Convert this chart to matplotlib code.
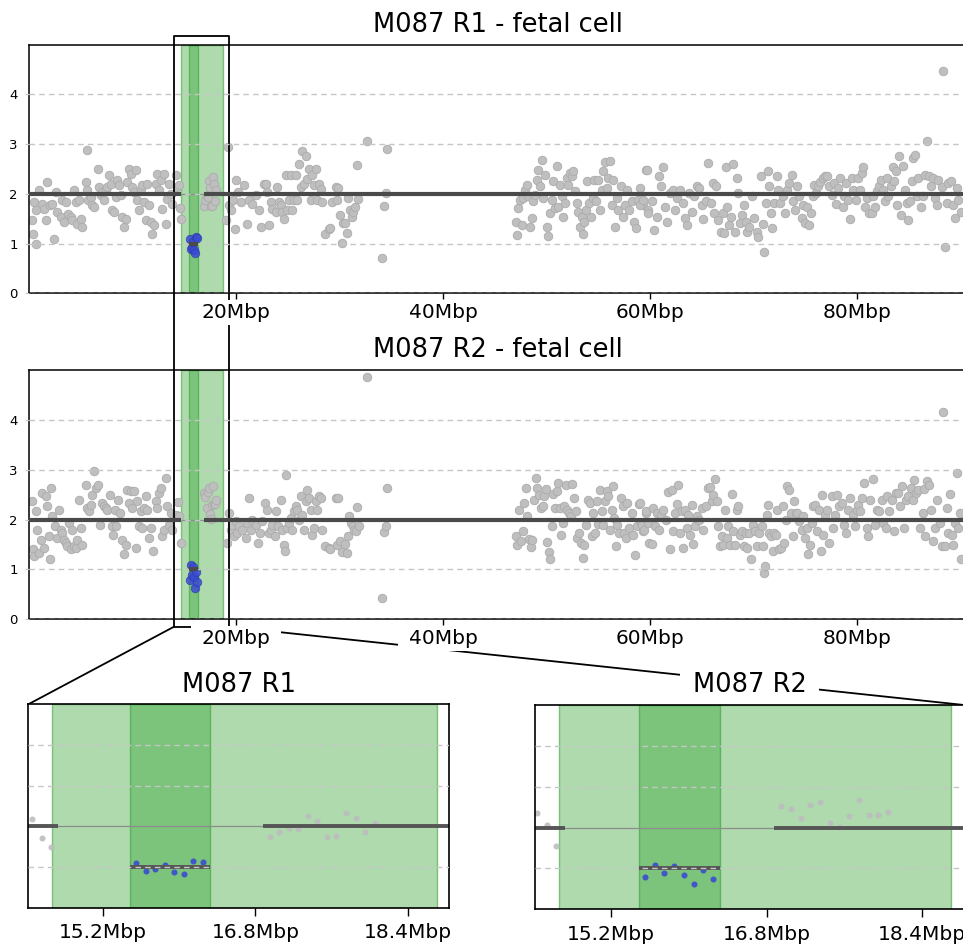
import numpy as np
import matplotlib.pyplot as plt
from matplotlib.lines import Line2D
from matplotlib.path import Path
from matplotlib.colors import to_rgba

# ---- read-depth copy number per bin: (position in Mbp, copy number) ----
r1_arm1 = [(0.32, 1.47), (0.39, 1.2), (0.48, 1.83), (0.64, 1.67), (0.71, 0.99), (0.97, 2.07), (1.22, 1.8),
           (1.45, 1.7), (1.61, 1.47), (1.77, 2.23), (2.0, 1.77), (2.25, 1.8), (2.42, 1.1), (2.58, 2.03),
           (2.74, 1.63), (3.06, 1.53), (3.22, 1.87), (3.38, 1.43), (3.54, 1.83), (3.8, 1.6), (4.03, 1.53),
           (4.19, 1.47), (4.35, 2.07), (4.51, 1.83), (4.67, 1.4), (4.83, 1.87), (4.99, 1.5), (5.15, 1.33),
           (5.48, 2.23), (5.64, 2.07), (5.64, 2.88), (5.73, 1.87), (5.96, 1.93), (6.12, 1.77), (6.28, 1.73),
           (6.7, 2.5), (6.76, 2.13), (6.92, 1.97), (7.09, 2.03), (7.25, 1.87), (7.41, 2.07), (7.57, 2.13),
           (7.73, 2.37), (7.89, 2.2), (8.05, 1.67), (8.21, 1.63), (8.37, 1.93), (8.53, 2.27), (8.7, 2.17),
           (8.86, 1.97), (9.02, 1.53), (9.18, 1.33), (9.34, 1.5), (9.5, 2.23), (9.66, 2.5), (9.82, 2.4),
           (9.98, 2.13), (10.14, 2.03), (10.31, 2.47), (10.47, 1.87), (10.63, 1.67), (10.79, 2.1),
           (10.95, 2.17), (11.11, 1.83), (11.27, 1.47), (11.43, 2.2), (11.59, 1.77), (11.76, 1.43),
           (11.92, 1.2), (12.08, 1.37), (12.24, 2.2), (12.4, 2.4), (12.56, 2.07), (12.72, 2.27), (12.88, 1.7),
           (13.04, 2.4), (13.2, 1.4), (13.37, 1.9), (13.53, 2.2), (13.69, 2.0), (13.85, 1.8), (14.17, 2.37),
           (14.33, 2.13), (14.46, 2.17), (14.56, 1.72), (14.66, 1.5)]
r1_roi = [(16.95, 1.75), (17.05, 1.87), (17.15, 1.96), (17.25, 1.94), (17.35, 2.25), (17.45, 2.12),
          (17.55, 1.75), (17.65, 1.76), (17.75, 2.34), (17.85, 2.2), (17.95, 1.85), (18.05, 2.07)]
r1_arm2 = [(19.0, 1.47), (19.26, 2.95), (19.32, 1.77), (19.48, 1.67), (19.71, 1.87), (19.9, 1.3), (20.03, 2.27),
           (20.23, 2.03), (20.45, 1.83), (20.77, 2.17), (21.1, 1.4), (21.26, 1.87), (21.58, 1.8), (21.9, 1.97),
           (22.22, 1.67), (22.38, 1.33), (22.71, 2.2), (22.93, 2.2), (23.03, 2.03), (23.19, 1.37), (23.35, 1.83),
           (23.51, 1.7), (23.83, 1.63), (23.99, 2.13), (24.15, 1.83), (24.32, 1.77), (24.48, 1.63), (24.64, 1.5),
           (24.8, 2.37), (24.96, 1.67), (25.12, 1.87), (25.28, 2.37), (25.44, 1.67), (25.6, 1.87), (25.77, 2.37),
           (25.93, 1.87), (26.09, 2.6), (26.25, 2.13), (26.41, 2.87), (26.57, 2.2), (26.73, 2.77), (26.89, 2.3),
           (27.05, 2.5), (27.21, 1.87), (27.38, 2.37), (27.54, 2.17), (27.7, 2.5), (27.86, 1.87), (28.02, 2.2),
           (28.18, 2.1), (28.34, 1.83), (28.6, 1.2), (28.99, 1.3), (29.31, 1.83), (29.63, 2.13), (29.79, 1.87),
           (29.08, 1.31), (29.89, 2.11), (30.05, 1.58), (30.21, 1.02), (30.37, 1.41), (30.53, 1.42),
           (30.69, 1.21), (30.85, 1.91), (31.01, 1.68), (31.17, 1.54), (31.33, 1.64), (31.5, 1.74),
           (31.66, 2.58), (31.82, 1.89), (32.62, 3.07), (34.07, 0.7), (34.3, 1.76), (34.49, 2.01), (34.62, 2.9)]
r1_arm3 = [(47.05, 1.44), (47.18, 1.17), (47.28, 1.71), (47.44, 1.88), (47.6, 1.38), (47.76, 1.91), (47.92, 2.08),
           (48.08, 2.18), (48.24, 1.95), (48.4, 1.34), (48.56, 1.51), (48.73, 1.85), (48.89, 1.98), (49.05, 2.28),
           (49.21, 2.48), (49.37, 2.15), (49.53, 2.68), (49.69, 1.91), (49.85, 2.38), (50.01, 1.34), (50.17, 1.15),
           (50.34, 1.61), (50.5, 1.88), (50.66, 2.25), (50.82, 1.71), (50.98, 2.56), (51.14, 1.74), (51.3, 2.18),
           (51.46, 1.95), (51.62, 1.54), (51.79, 1.81), (51.95, 2.32), (52.11, 2.18), (52.27, 2.42), (52.43, 2.35),
           (52.59, 2.45), (52.75, 2.05), (52.91, 1.81), (53.07, 1.64), (53.23, 1.34), (53.4, 1.54), (53.49, 1.19),
           (53.62, 1.44), (53.81, 1.68), (53.94, 2.25), (54.14, 1.81), (54.27, 1.54), (54.46, 1.91), (54.59, 2.28),
           (54.78, 1.85), (55.01, 2.28), (55.17, 1.68), (55.33, 2.08), (55.49, 2.45), (55.65, 2.65), (55.81, 2.11),
           (55.97, 2.32), (56.13, 2.67), (56.29, 1.78), (56.46, 2.27), (56.62, 1.34), (56.78, 1.91), (56.94, 1.68),
           (57.16, 2.16), (57.36, 1.54), (57.58, 1.78), (57.81, 2.08), (58.0, 1.68), (58.23, 1.85), (58.45, 1.44),
           (58.65, 1.31), (58.87, 1.88), (59.03, 2.11), (59.29, 1.78), (59.61, 2.48), (59.84, 1.68)]
r1_arm4 = [(59.03, 1.78), (59.35, 1.88), (59.67, 2.48), (59.84, 1.61), (60.16, 1.85), (60.38, 1.28), (60.64, 1.54),
           (60.9, 2.35), (61.03, 2.15), (61.28, 2.54), (61.45, 1.74), (61.67, 1.44), (61.93, 2.01), (62.19, 2.08),
           (62.41, 1.68), (62.64, 1.91), (62.89, 2.08), (63.15, 1.81), (63.38, 1.51), (63.54, 1.38), (63.8, 2.01),
           (64.02, 1.64), (64.25, 1.95), (64.5, 2.15), (64.76, 2.11), (64.99, 1.78), (65.15, 1.49), (65.41, 1.85),
           (65.63, 2.62), (65.86, 1.81), (66.05, 2.21), (66.18, 1.62), (66.37, 2.15), (66.6, 1.48), (66.82, 1.24),
           (67.02, 1.61), (67.15, 1.21), (67.34, 2.54), (67.47, 1.74), (67.66, 1.38), (67.79, 1.54), (67.98, 2.6),
           (68.21, 1.24), (68.37, 2.32), (68.53, 2.01), (68.69, 1.41), (68.85, 1.58), (69.08, 1.78), (69.27, 1.44),
           (69.4, 1.24), (69.59, 1.34), (69.82, 1.95), (70.04, 1.51), (70.3, 1.24), (70.46, 1.14), (70.69, 2.36),
           (70.88, 1.4), (71.04, 0.84), (71.2, 1.81), (71.36, 2.45), (71.53, 2.16), (71.65, 1.62), (71.78, 1.31),
           (71.98, 1.81), (72.23, 2.36), (72.4, 2.08), (72.56, 1.81), (72.81, 1.95), (73.04, 1.61), (73.2, 2.08),
           (73.46, 2.21), (73.68, 2.38), (73.85, 1.85), (74.01, 1.68), (74.23, 2.15), (74.42, 1.95), (74.65, 1.51),
           (74.81, 1.78), (74.97, 1.41), (75.2, 1.74), (75.39, 1.38), (75.52, 1.61), (75.71, 1.95), (75.84, 2.18),
           (76.03, 2.01), (76.26, 2.15), (76.42, 2.23), (76.68, 2.32), (76.9, 2.35), (77.13, 2.36), (77.32, 2.15),
           (77.55, 1.98), (77.77, 2.21), (77.97, 1.8), (78.19, 2.11), (78.35, 2.32), (78.61, 1.74), (78.74, 1.95),
           (78.93, 2.21), (79.16, 1.88), (79.32, 1.49), (79.48, 2.32), (79.64, 2.08), (79.9, 1.88), (80.12, 2.32),
           (80.29, 2.08), (80.45, 2.42), (80.61, 2.54), (80.77, 1.74), (80.99, 1.91), (81.19, 1.61), (81.41, 1.61),
           (81.57, 1.95), (81.74, 1.74), (81.96, 2.05), (82.15, 2.15), (82.28, 2.28), (82.48, 2.08), (82.7, 1.85),
           (82.86, 2.32), (83.02, 1.95), (83.25, 2.15), (83.44, 2.55), (83.57, 2.25), (83.76, 2.45), (83.89, 1.78),
           (84.02, 2.77), (84.21, 1.58), (84.41, 2.56), (84.63, 2.08), (84.79, 1.81), (84.96, 1.48), (85.12, 1.85),
           (85.28, 2.25), (85.44, 2.72), (85.6, 2.79), (85.76, 1.95), (85.92, 2.32), (86.15, 1.74), (86.34, 1.95),
           (86.57, 2.38), (86.79, 3.07), (86.98, 2.35), (87.11, 2.15), (87.31, 2.32), (87.53, 1.91), (87.69, 1.78),
           (87.85, 2.28), (88.18, 2.13), (88.34, 4.48), (88.53, 0.93), (88.66, 1.81), (88.82, 2.21), (89.05, 2.25),
           (89.24, 1.78), (89.47, 1.51), (89.63, 2.11), (89.79, 1.88), (90.01, 1.64)]

r2_arm1 = [(0.32, 2.37), (0.39, 1.4), (0.48, 1.27), (0.64, 2.17), (0.81, 1.8), (0.97, 1.33), (1.13, 1.6),
           (1.29, 2.53), (1.45, 1.43), (1.61, 2.47), (1.77, 2.27), (1.93, 1.67), (2.0, 1.2), (2.09, 2.63),
           (2.25, 2.07), (2.51, 1.87), (2.74, 1.63), (2.9, 2.2), (3.06, 1.8), (3.22, 1.73), (3.38, 1.6),
           (3.54, 1.53), (3.7, 1.47), (3.86, 1.93), (4.03, 1.4), (4.19, 1.8), (4.35, 1.47), (4.51, 1.43),
           (4.67, 1.6), (4.83, 2.4), (4.99, 1.83), (5.15, 1.5), (5.48, 2.7), (5.64, 2.23), (5.8, 2.17),
           (5.96, 2.3), (6.12, 2.5), (6.28, 2.97), (6.44, 2.63), (6.7, 2.7), (6.83, 1.9), (7.02, 2.33),
           (7.25, 2.27), (7.41, 2.23), (7.57, 2.2), (7.79, 2.5), (7.99, 1.87), (8.12, 1.7), (8.31, 2.2),
           (8.44, 1.87), (8.63, 2.4), (8.76, 2.13), (8.95, 1.6), (9.18, 1.3), (9.34, 1.5), (9.5, 2.6),
           (9.66, 2.33), (9.82, 2.57), (9.98, 2.23), (10.14, 2.57), (10.31, 1.43), (10.47, 2.37), (10.63, 1.87),
           (10.79, 2.17), (10.95, 1.83), (11.11, 2.23), (11.27, 2.47), (11.43, 2.2), (11.59, 1.63), (11.76, 1.83),
           (11.98, 1.37), (12.24, 2.37), (12.4, 2.23), (12.56, 2.53), (12.72, 2.63), (12.88, 1.67), (13.04, 1.8),
           (13.2, 2.83), (13.37, 2.27), (13.53, 1.9), (13.69, 2.13), (13.85, 1.8), (14.17, 2.1), (14.44, 2.36),
           (14.54, 2.07), (14.64, 1.54)]
r2_roi = [(16.95, 2.54), (17.05, 2.46), (17.15, 2.24), (17.25, 2.55), (17.35, 2.63), (17.45, 2.12),
          (17.55, 2.02), (17.65, 2.29), (17.75, 2.68), (17.85, 2.32), (17.95, 2.32), (18.05, 2.39)]
r2_arm2 = [(19.16, 1.53), (19.32, 2.13), (19.48, 1.8), (19.65, 1.9), (19.81, 1.67), (19.97, 1.97), (20.13, 1.73),
           (20.29, 1.87), (20.61, 1.8), (20.93, 1.63), (21.1, 1.93), (21.26, 2.43), (21.42, 1.8), (21.58, 2.0),
           (21.9, 1.9), (22.16, 1.53), (22.29, 1.73), (22.54, 1.97), (22.8, 2.33), (23.03, 2.2), (23.19, 1.73),
           (23.35, 1.8), (23.51, 1.9), (23.77, 1.67), (23.9, 2.17), (24.09, 1.87), (24.32, 2.4), (24.48, 1.8),
           (24.64, 1.5), (24.73, 1.37), (24.86, 2.9), (24.96, 1.83), (25.12, 1.93), (25.28, 2.03), (25.44, 1.8),
           (25.6, 2.17), (25.77, 2.27), (25.93, 2.2), (26.09, 2.0), (26.25, 2.47), (26.41, 2.1), (26.57, 1.8),
           (26.73, 2.37), (26.89, 2.6), (27.05, 2.43), (27.21, 2.2), (27.38, 1.7), (27.54, 1.83), (27.7, 2.37),
           (27.86, 2.2), (28.02, 2.47), (28.18, 2.43), (28.34, 1.8), (28.6, 1.47), (28.99, 1.43), (29.63, 2.43),
           (29.08, 1.4), (29.72, 1.49), (29.89, 2.43), (30.05, 1.57), (30.21, 1.35), (30.53, 1.52), (30.69, 1.33),
           (30.85, 1.67), (30.95, 2.07), (31.08, 1.93), (31.27, 1.87), (31.4, 1.8), (31.59, 1.77), (31.72, 2.25),
           (31.91, 1.87), (32.62, 4.85), (34.07, 0.43), (34.3, 1.75), (34.49, 1.87), (34.62, 2.63)]
r2_arm3 = [(47.05, 1.67), (47.18, 1.5), (47.37, 2.2), (47.5, 1.57), (47.69, 1.77), (47.86, 2.33), (48.02, 2.63),
           (48.15, 2.07), (48.34, 1.61), (48.47, 1.45), (48.63, 1.6), (48.79, 2.4), (48.98, 2.83), (49.11, 2.63),
           (49.3, 2.5), (49.43, 2.23), (49.63, 2.27), (49.76, 2.47), (49.95, 2.61), (50.08, 1.55), (50.21, 1.35),
           (50.34, 1.2), (50.5, 1.87), (50.66, 2.52), (50.82, 2.23), (50.98, 2.57), (51.11, 2.73), (51.3, 2.23),
           (51.4, 1.7), (51.56, 1.93), (51.69, 2.27), (51.88, 2.7), (52.01, 2.2), (52.2, 2.13), (52.33, 2.07),
           (52.46, 2.72), (52.66, 2.43), (52.85, 2.17), (52.98, 1.63), (53.17, 1.73), (53.3, 1.53), (53.49, 1.23),
           (53.62, 1.5), (53.81, 1.9), (54.04, 2.4), (54.2, 2.33), (54.36, 1.68), (54.52, 2.13), (54.68, 1.73),
           (54.85, 2.37), (55.01, 1.92), (55.17, 2.6), (55.33, 2.17), (55.49, 1.9), (55.65, 2.37), (55.81, 2.57),
           (55.97, 2.47), (56.13, 1.8), (56.29, 2.2), (56.39, 2.68), (56.52, 2.03), (56.71, 1.47), (56.84, 1.9),
           (57.03, 1.73), (57.16, 2.43), (57.36, 2.27), (57.49, 1.73), (57.68, 1.63), (57.81, 2.33), (58.0, 1.83),
           (58.23, 2.13), (58.39, 1.7), (58.55, 1.28), (58.71, 1.87), (58.9, 2.32), (59.1, 1.93), (59.35, 1.77),
           (59.61, 2.13), (59.93, 1.53)]
r2_arm4 = [(59.03, 2.33), (59.19, 1.9), (59.42, 1.8), (59.61, 2.17), (59.84, 1.93), (60.16, 1.52), (60.32, 2.23),
           (60.48, 1.87), (60.64, 2.13), (60.9, 1.8), (61.03, 2.1), (61.28, 2.2), (61.54, 2.0), (61.77, 2.55),
           (61.93, 1.41), (62.09, 2.6), (62.25, 1.77), (62.41, 2.13), (62.57, 2.32), (62.73, 2.7), (62.89, 1.73),
           (63.06, 2.17), (63.15, 1.43), (63.38, 2.2), (63.54, 1.83), (63.7, 2.1), (63.86, 1.7), (64.02, 2.3),
           (64.18, 1.52), (64.34, 1.87), (64.5, 2.07), (64.76, 2.0), (64.99, 2.23), (65.15, 1.8), (65.41, 2.27),
           (65.63, 2.63), (65.79, 2.65), (65.95, 2.37), (66.12, 2.5), (66.28, 2.82), (66.44, 2.37), (66.6, 1.88),
           (66.76, 1.47), (66.92, 1.67), (67.08, 1.5), (67.24, 2.2), (67.4, 1.63), (67.57, 1.87), (67.73, 1.5),
           (67.89, 2.51), (68.05, 1.77), (68.21, 1.5), (68.37, 2.2), (68.53, 2.27), (68.69, 1.7), (68.85, 1.77),
           (69.08, 1.47), (69.27, 1.73), (69.4, 1.43), (69.59, 1.73), (69.72, 1.21), (69.92, 1.9), (70.14, 1.77),
           (70.37, 1.48), (70.56, 1.73), (70.79, 1.87), (70.95, 1.48), (71.04, 0.93), (71.14, 1.07), (71.27, 2.1),
           (71.36, 2.3), (71.53, 1.73), (71.65, 1.67), (71.85, 1.37), (71.98, 1.73), (72.17, 1.7), (72.3, 2.2),
           (72.49, 1.4), (72.62, 1.43), (72.81, 2.27), (72.94, 1.53), (73.14, 2.0), (73.27, 2.67), (73.46, 2.6),
           (73.59, 2.13), (73.78, 1.68), (73.91, 2.37), (74.1, 2.13), (74.23, 2.13), (74.42, 1.97), (74.65, 1.8),
           (74.81, 2.07), (74.97, 1.63), (75.13, 1.83), (75.29, 1.3), (75.46, 1.5), (75.62, 1.93), (75.78, 2.27),
           (75.94, 2.3), (76.1, 1.77), (76.36, 2.2), (76.49, 1.37), (76.58, 2.5), (76.74, 1.7), (76.9, 2.1),
           (77.07, 2.2), (77.32, 1.53), (77.55, 2.47), (77.71, 1.83), (77.87, 2.1), (78.1, 2.5), (78.29, 2.27),
           (78.51, 2.33), (78.74, 1.9), (78.93, 1.73), (79.16, 2.2), (79.32, 2.43), (79.58, 2.1), (79.8, 1.87),
           (79.97, 2.2), (80.12, 2.3), (80.29, 2.17), (80.45, 2.43), (80.67, 2.73), (80.93, 1.83), (81.09, 1.67),
           (81.25, 2.4), (81.51, 2.82), (81.74, 1.9), (81.96, 2.2), (82.15, 2.17), (82.38, 2.4), (82.54, 1.93),
           (82.8, 1.83), (82.93, 2.47), (83.12, 2.17), (83.35, 2.4), (83.57, 1.77), (83.76, 2.53), (83.99, 2.53),
           (84.15, 2.27), (84.31, 2.68), (84.54, 1.83), (84.73, 2.4), (84.96, 2.47), (85.18, 2.63), (85.38, 2.4),
           (85.5, 2.8), (85.7, 2.53), (85.92, 2.6), (86.08, 1.83), (86.34, 2.13), (86.47, 2.61), (86.6, 1.67),
           (86.79, 2.77), (86.98, 2.7), (87.11, 2.2), (87.31, 1.57), (87.53, 1.83), (87.76, 2.4), (88.01, 1.93),
           (88.18, 1.47), (88.34, 4.15), (88.5, 1.47), (88.66, 2.23), (88.82, 1.73), (88.98, 2.52), (89.14, 1.7),
           (89.3, 1.5), (89.47, 1.93), (89.63, 2.93), (89.79, 1.83), (89.95, 2.13), (90.01, 1.21)]

# bins inside the deleted segment
loss_pos = [15.55, 15.65, 15.75, 15.85, 15.95, 16.05, 16.15, 16.25]
r1_loss_cn = [1.09, 0.89, 0.94, 1.04, 0.87, 0.82, 1.14, 1.12]
r2_loss_cn = [0.79, 1.08, 0.89, 1.05, 0.84, 0.62, 0.95, 0.74]

# segmentation (start, end, copy number)
segments = [(0.0, 14.73, 2), (15.49, 16.32, 1), (16.88, 95.0, 2)]

roi = (14.67, 18.70)        # region of interest (light green)
loss = (15.49, 16.32)       # called deletion (dark green)
zoom_box = (14.0, 19.35)    # outline drawn on the genome-wide panels
chrom_end = 90.53
zoom_xlim = (14.42, 18.83)

W, H = 963, 944
fig = plt.figure(figsize=(W / 100, H / 100), dpi=100)


def place(left, top, right, bottom):
    return fig.add_axes([left / W, 1 - bottom / H, (right - left) / W, (bottom - top) / H])


def wide_box(x0, y0, width, height, mutation_size):
    # white box behind labels, wider than tall
    px, py = 0.5 * mutation_size, 0.14 * mutation_size
    return Path([(x0 - px, y0 - py), (x0 + width + px, y0 - py), (x0 + width + px, y0 + height + py),
                 (x0 - px, y0 + height + py), (x0 - px, y0 - py)], closed=True)


white_box = dict(boxstyle=wide_box, facecolor='white', edgecolor='none')
green_face = to_rgba('#2ca02c', 0.38)
green_edge = to_rgba('#2ca02c', 0.55)


def draw_common(ax, pts):
    x, y = np.array(pts).T
    ax.set_axisbelow(False)
    ax.axvspan(*roi, facecolor=green_face, edgecolor=green_edge, lw=1, zorder=1)
    ax.axvspan(*loss, facecolor=green_face, edgecolor=green_edge, lw=1, zorder=1)
    ax.axhline(2, color='#8c8c8c', lw=0.9, zorder=1.05)
    return x, y


def main_panel(ax, pts, loss_cn, title):
    x, y = draw_common(ax, pts)
    ax.scatter(x, y, s=38, c='#bfbfbf', edgecolors='#ababab', linewidths=0.6, zorder=1.2)
    ax.scatter(loss_pos, loss_cn, s=38, c='#3b4bd1', alpha=0.85, edgecolors='#2a3ab0',
               linewidths=0.5, zorder=1.3)
    for a, b, cn in segments:
        ax.plot([a, b], [cn, cn], color='#4a4a4a', lw=3.0, solid_capstyle='butt', zorder=2.6)
    ax.set_xlim(0, chrom_end)
    ax.set_ylim(0, 5)
    ax.set_yticks([0, 1, 2, 3, 4])
    ax.yaxis.grid(True, ls=(0, (4, 3)), color='#c6c6c6', lw=1)
    ax.tick_params(axis='y', length=3, color='#c6c6c6', pad=5, labelsize=9.5)
    ax.set_xticks([20, 40, 60, 80], ['20Mbp', '40Mbp', '60Mbp', '80Mbp'])
    ax.tick_params(axis='x', length=4, width=1, pad=3, labelsize=14.5)
    for lbl in ax.get_xticklabels():
        lbl.set_bbox(white_box)
    for sp in ax.spines.values():
        sp.set_linewidth(1.1)
    ax.set_title(title, fontsize=18.5, pad=9.5)


def zoom_panel(ax, pts, loss_cn, title):
    x, y = draw_common(ax, pts)
    ax.scatter(x, y, s=19, c='#bdbdbd', alpha=0.9, linewidths=0, zorder=1.2)
    ax.scatter(loss_pos, loss_cn, s=19, c='#3b4bd1', alpha=0.9, linewidths=0, zorder=1.3)
    for a, b, cn in segments:
        ax.plot([a, b], [cn, cn], color='#555555', lw=2.8, solid_capstyle='butt', zorder=2)
    ax.set_xlim(*zoom_xlim)
    ax.set_ylim(0, 5)
    ax.set_yticks([1, 3, 4], [])
    ax.yaxis.grid(True, ls=(0, (4, 3)), color='#c6c6c6', lw=1)
    ax.tick_params(axis='y', length=0)
    ax.set_xticks([15.2, 16.8, 18.4], ['15.2Mbp', '16.8Mbp', '18.4Mbp'])
    ax.tick_params(axis='x', length=6, width=1, pad=5, labelsize=14.5)
    for sp in ax.spines.values():
        sp.set_linewidth(1.2)
    ax.set_title(title, fontsize=18.5, pad=9, bbox=white_box)


ax1 = place(29, 44.7, 966, 293.3)
ax2 = place(29, 370, 966, 619.3)
axz1 = place(28.3, 704.3, 449, 907.7)
axz2 = place(535, 705, 964, 909.3)

main_panel(ax1, r1_arm1 + r1_roi + r1_arm2 + r1_arm3 + r1_arm4, r1_loss_cn, 'M087 R1 - fetal cell')
main_panel(ax2, r2_arm1 + r2_roi + r2_arm2 + r2_arm3 + r2_arm4, r2_loss_cn, 'M087 R2 - fetal cell')
zoom_panel(axz1, r1_arm1 + r1_roi + r1_arm2, r1_loss_cn, 'M087 R1')
zoom_panel(axz2, r2_arm1 + r2_roi + r2_arm2, r2_loss_cn, 'M087 R2')

# outline of the zoomed window, running through both genome-wide panels
box_top, box_bottom = 5.17, -0.15
gap_y = ax1.transData.inverted().transform(ax2.transData.transform((0, 5)))[1]
lo, hi = zoom_box
ax1.plot([lo, lo, hi, hi], [gap_y, box_top, box_top, gap_y], color='black', lw=1.3,
         clip_on=False, zorder=2.2)
ax2.plot([lo, lo, hi, hi], [5, box_bottom, box_bottom, 5], color='black', lw=1.3,
         clip_on=False, zorder=2.2)

# connector lines from the outline to the zoomed panels (drawn under the labels)
to_fig = fig.transFigure.inverted()
for xa, axb, corner in [(lo, axz1, (0, 1)), (hi, axz2, (1, 1))]:
    p0 = to_fig.transform(ax2.transData.transform((xa, box_bottom)))
    p1 = to_fig.transform(axb.transAxes.transform(corner))
    fig.add_artist(Line2D([p0[0], p1[0]], [p0[1], p1[1]], transform=fig.transFigure,
                          color='black', lw=1.3, zorder=-1))

fig.savefig('out.png', dpi=100, facecolor='white')
